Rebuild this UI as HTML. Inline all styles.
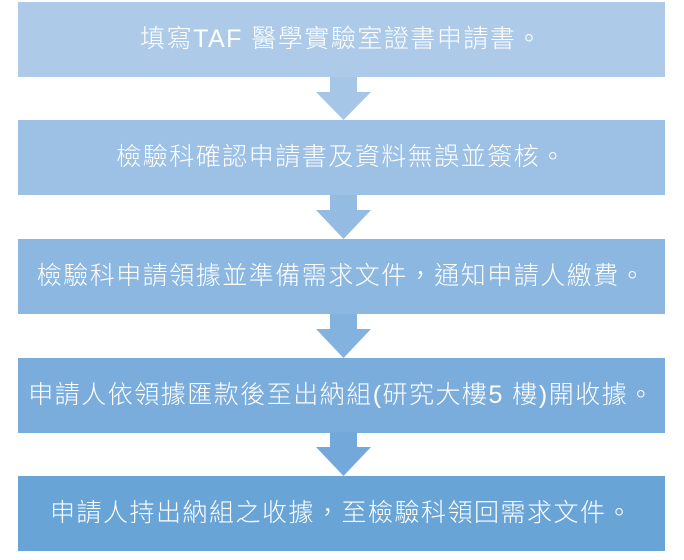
<!DOCTYPE html>
<html><head><meta charset="utf-8"><style>
html,body{margin:0;padding:0;background:#fff;width:684px;height:560px;overflow:hidden}
.b{position:absolute;left:18px;width:647px;height:75px;color:#fff;font-family:"Liberation Sans","Noto Sans CJK TC",sans-serif;font-weight:300;font-size:25px;letter-spacing:1.5px;line-height:75px;text-align:center;white-space:nowrap}
svg{position:absolute;left:0;top:0}
</style></head><body>
<div class="b" style="top:2px;background:#adcbe8">填寫TAF 醫學實驗室證書申請書。</div>
<div class="b" style="top:120px;background:#9cc1e4">檢驗科確認申請書及資料無誤並簽核。</div>
<div class="b" style="top:239px;background:#8bb7e0">檢驗科申請領據並準備需求文件，通知申請人繳費。</div>
<div class="b" style="top:358px;background:#7aaddc">申請人依領據匯款後至出納組(研究大樓5 樓)開收據。</div>
<div class="b" style="top:476px;background:#69a4d7">申請人持出納組之收據，至檢驗科領回需求文件。</div>
<svg width="684" height="560">
<polygon points="330,77 357,77 357,92 371,92 343.5,120 316,92 330,92" fill="#a5c6e6"/>
<polygon points="330,195 357,195 357,210 371,210 343.5,239 316,210 330,210" fill="#94bce2"/>
<polygon points="330,314 357,314 357,329 371,329 343.5,358 316,329 330,329" fill="#83b2de"/>
<polygon points="330,432 357,432 357,447 371,447 343.5,476 316,447 330,447" fill="#72a9da"/>
</svg>
</body></html>
